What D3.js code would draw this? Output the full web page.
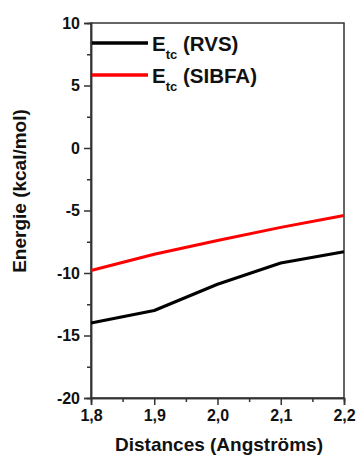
<!DOCTYPE html>
<html><head><meta charset="utf-8">
<script src="https://cdn.jsdelivr.net/npm/d3@7"></script>
<style>body{margin:0;background:#fff}svg{display:block}text{font-family:"Liberation Sans",Arial,sans-serif;font-weight:bold;fill:#111}</style>
</head><body>
<script>
const distances = [1.8, 1.9, 2.0, 2.1, 2.2];
const rvs = [-14.0, -13.0, -10.9, -9.2, -8.3];
const sibfa = [-9.8, -8.5, -7.4, -6.35, -5.4];
const xTicks = [1.8, 1.9, 2.0, 2.1, 2.2];
const yTicks = [-20, -15, -10, -5, 0, 5, 10];
const seriesNames = ["(RVS)", "(SIBFA)"];
const seriesColors = ["#000000", "#ff0000"];

const W = 359, H = 459;
const m = {left: 91, right: 344, top: 23, bottom: 398};
const svg = d3.select("body").append("svg").attr("width", W).attr("height", H);
const x = d3.scaleLinear().domain([1.8, 2.2]).range([m.left, m.right]);
const y = d3.scaleLinear().domain([-20, 10]).range([m.bottom, m.top]);

// frame
svg.append("rect").attr("x", m.left).attr("y", m.top).attr("width", m.right - m.left).attr("height", m.bottom - m.top)
  .attr("fill", "none").attr("stroke", "#333").attr("stroke-width", 1.5);

const fmt = d => d.toFixed(1).replace(".", ",");
// x axis
svg.append("g").attr("transform", `translate(0,${m.bottom})`)
  .call(d3.axisBottom(x).tickValues(xTicks).tickFormat(fmt).tickSize(7).tickPadding(5));
svg.append("g").attr("transform", `translate(0,${m.bottom})`)
  .call(d3.axisBottom(x).tickValues(d3.range(0,4).map(i => 1.85 + i*0.1)).tickFormat("").tickSize(4));
// y axis
svg.append("g").attr("transform", `translate(${m.left},0)`)
  .call(d3.axisLeft(y).tickValues(yTicks).tickFormat(d => String(d)).tickSize(7).tickPadding(4));
svg.append("g").attr("transform", `translate(${m.left},0)`)
  .call(d3.axisLeft(y).tickValues(d3.range(0,6).map(i => -17.5 + i*5)).tickFormat("").tickSize(4));
svg.selectAll(".domain").attr("stroke", "#333").attr("stroke-width", 1.5);
svg.selectAll(".tick line").attr("stroke", "#333").attr("stroke-width", 1.5);
svg.selectAll(".tick text").style("font-size", "16px").style("font-family", '"Liberation Sans",Arial,sans-serif').style("font-weight", "bold").attr("fill", "#111");

// lines
const line = d3.line().x((d, i) => x(distances[i])).y(d => y(d));
[rvs, sibfa].forEach((s, k) => {
  svg.append("path").datum(s).attr("d", line).attr("fill", "none")
    .attr("stroke", seriesColors[k]).attr("stroke-width", 3).attr("stroke-linejoin", "round");
});

// legend
const legY = [43, 75];
seriesNames.forEach((n, k) => {
  svg.append("line").attr("x1", m.left + 1).attr("x2", 148).attr("y1", legY[k]).attr("y2", legY[k])
    .attr("stroke", seriesColors[k]).attr("stroke-width", 3.5);
  const t = svg.append("text").attr("x", 152).attr("y", legY[k] + 8).style("font-size", "20.5px");
  t.append("tspan").text("E");
  t.append("tspan").attr("dy", 8).style("font-size", "13px").text("tc");
  t.append("tspan").attr("dy", -8).text(" " + n);
});

// titles
svg.append("text").attr("x", 219).attr("y", 451).attr("text-anchor", "middle").style("font-size", "19px")
  .text("Distances (Angströms)");
svg.append("text").attr("transform", "translate(26,191) rotate(-90)").attr("text-anchor", "middle").style("font-size", "19px")
  .text("Energie (kcal/mol)");
</script>
</body></html>
